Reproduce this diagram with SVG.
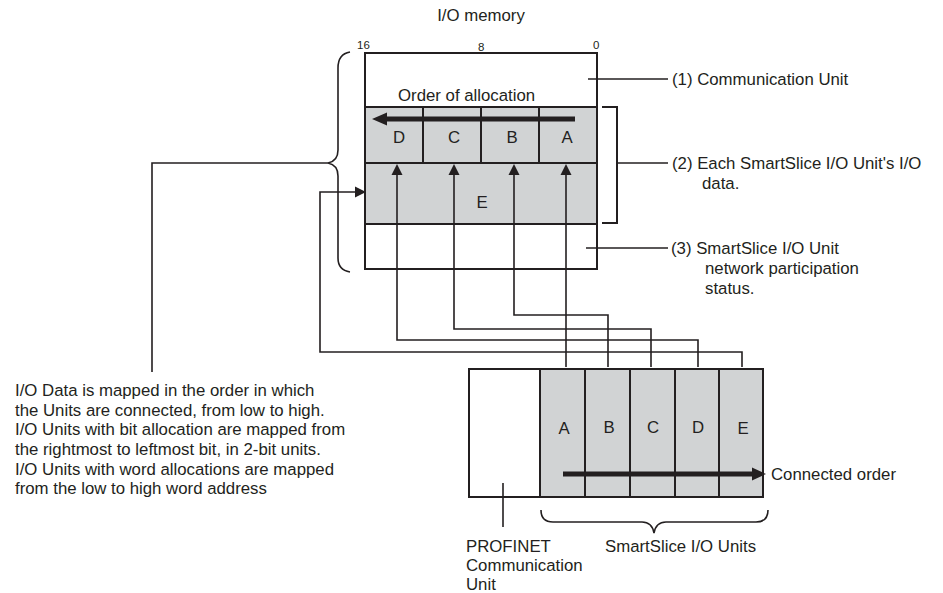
<svg xmlns="http://www.w3.org/2000/svg" width="943" height="593" viewBox="0 0 943 593">
<style>
text{font-family:"Liberation Sans",Arial,sans-serif;font-size:16.8px;fill:#231f20}
.sm{font-size:11.5px}
.box{fill:#fff;stroke:#231f20;stroke-width:2}
.gray{fill:#d1d3d4;stroke:#231f20;stroke-width:2}
.ln{fill:none;stroke:#231f20;stroke-width:1.6}
.thick{fill:none;stroke:#231f20;stroke-width:5}
.head{fill:#231f20}
.mid{text-anchor:middle}
</style>
<rect width="943" height="593" fill="#fff"/>

<g id="memory">
<text class="mid" x="481" y="21">I/O memory</text>
<text class="sm" x="357" y="49">16</text>
<text class="sm" x="478" y="51">8</text>
<text class="sm" x="593" y="49">0</text>
<rect class="box" x="365" y="53" width="232" height="216"/>
<rect class="gray" x="365" y="107" width="232" height="117"/>
<line class="ln" x1="365" y1="163" x2="597" y2="163" style="stroke-width:2"/>
<line class="ln" x1="423" y1="107" x2="423" y2="163" style="stroke-width:2"/>
<line class="ln" x1="481" y1="107" x2="481" y2="163" style="stroke-width:2"/>
<line class="ln" x1="539" y1="107" x2="539" y2="163" style="stroke-width:2"/>
<text class="mid" x="399" y="143">D</text>
<text class="mid" x="454" y="143">C</text>
<text class="mid" x="512" y="143">B</text>
<text class="mid" x="567" y="143">A</text>
<text class="mid" x="482" y="208">E</text>
<text x="398" y="101">Order of allocation</text>
<line class="thick" x1="575" y1="119" x2="384" y2="119"/>
<polygon class="head" points="372,119 387,112.5 387,125.5"/>
</g>

<g id="label1">
<line class="ln" x1="588" y1="79" x2="668" y2="79"/>
<text x="672" y="85">(1) Communication Unit</text>
</g>

<g id="label2">
<polyline class="ln" points="602,107 617,107 617,223 602,223" style="stroke-width:2"/>
<line class="ln" x1="617" y1="163" x2="668" y2="163"/>
<text x="672" y="169">(2) Each SmartSlice I/O Unit's I/O</text>
<text x="702" y="189">data.</text>
</g>

<g id="label3">
<line class="ln" x1="586" y1="248" x2="668" y2="248"/>
<text x="671" y="254">(3) SmartSlice I/O Unit</text>
<text x="705" y="274">network participation</text>
<text x="705" y="294">status.</text>
</g>

<g id="note">
<path class="ln" d="M350,52 Q338,54 338,68 L338,150 Q338,161 328,163 Q338,165 338,176 L338,258 Q338,270 350,272"/>
<polyline class="ln" points="328,163 152,163 152,372"/>
<text x="15" y="396">I/O Data is mapped in the order in which</text>
<text x="15" y="416">the Units are connected, from low to high.</text>
<text x="15" y="435">I/O Units with bit allocation are mapped from</text>
<text x="15" y="455">the rightmost to leftmost bit, in 2-bit units.</text>
<text x="15" y="475">I/O Units with word allocations are mapped</text>
<text x="15" y="494">from the low to high word address</text>
</g>

<g id="units">
<rect class="box" x="469" y="369" width="71" height="128"/>
<rect class="gray" x="540" y="369" width="45" height="128"/>
<rect class="gray" x="585" y="369" width="45" height="128"/>
<rect class="gray" x="630" y="369" width="45" height="128"/>
<rect class="gray" x="675" y="369" width="44" height="128"/>
<rect class="gray" x="719" y="369" width="44" height="128"/>
<text class="mid" x="564" y="434">A</text>
<text class="mid" x="609" y="433">B</text>
<text class="mid" x="653" y="433">C</text>
<text class="mid" x="698" y="433">D</text>
<text class="mid" x="743" y="434">E</text>
<line class="thick" x1="563" y1="474" x2="755" y2="474"/>
<polygon class="head" points="766,474 752,467.5 752,480.5"/>
<text x="771" y="480">Connected order</text>
</g>

<g id="profinet">
<line class="ln" x1="503" y1="483" x2="503" y2="527"/>
<text x="466" y="552">PROFINET</text>
<text x="466" y="571">Communication</text>
<text x="466" y="590">Unit</text>
</g>

<g id="smartslice">
<path class="ln" d="M541,510 Q541,522 553,522 L642,522 Q652,522 654,533 Q656,522 666,522 L756,522 Q768,522 768,510"/>
<text x="605" y="552">SmartSlice I/O Units</text>
</g>

<g id="connectors">
<polyline class="ln" points="742,367 742,352 320,352 320,192 358,192"/>
<polygon class="head" points="366,192 355,186.5 355,197.5"/>
<polyline class="ln" points="698,367 698,340 397,340 397,172"/>
<polygon class="head" points="397,164 391.5,175 402.5,175"/>
<polyline class="ln" points="651,367 651,329 454,329 454,172"/>
<polygon class="head" points="454,164 448.5,175 459.5,175"/>
<polyline class="ln" points="608,367 608,315 514,315 514,172"/>
<polygon class="head" points="514,164 508.5,175 519.5,175"/>
<polyline class="ln" points="566,367 566,172"/>
<polygon class="head" points="566,164 560.5,175 571.5,175"/>
</g>
</svg>
